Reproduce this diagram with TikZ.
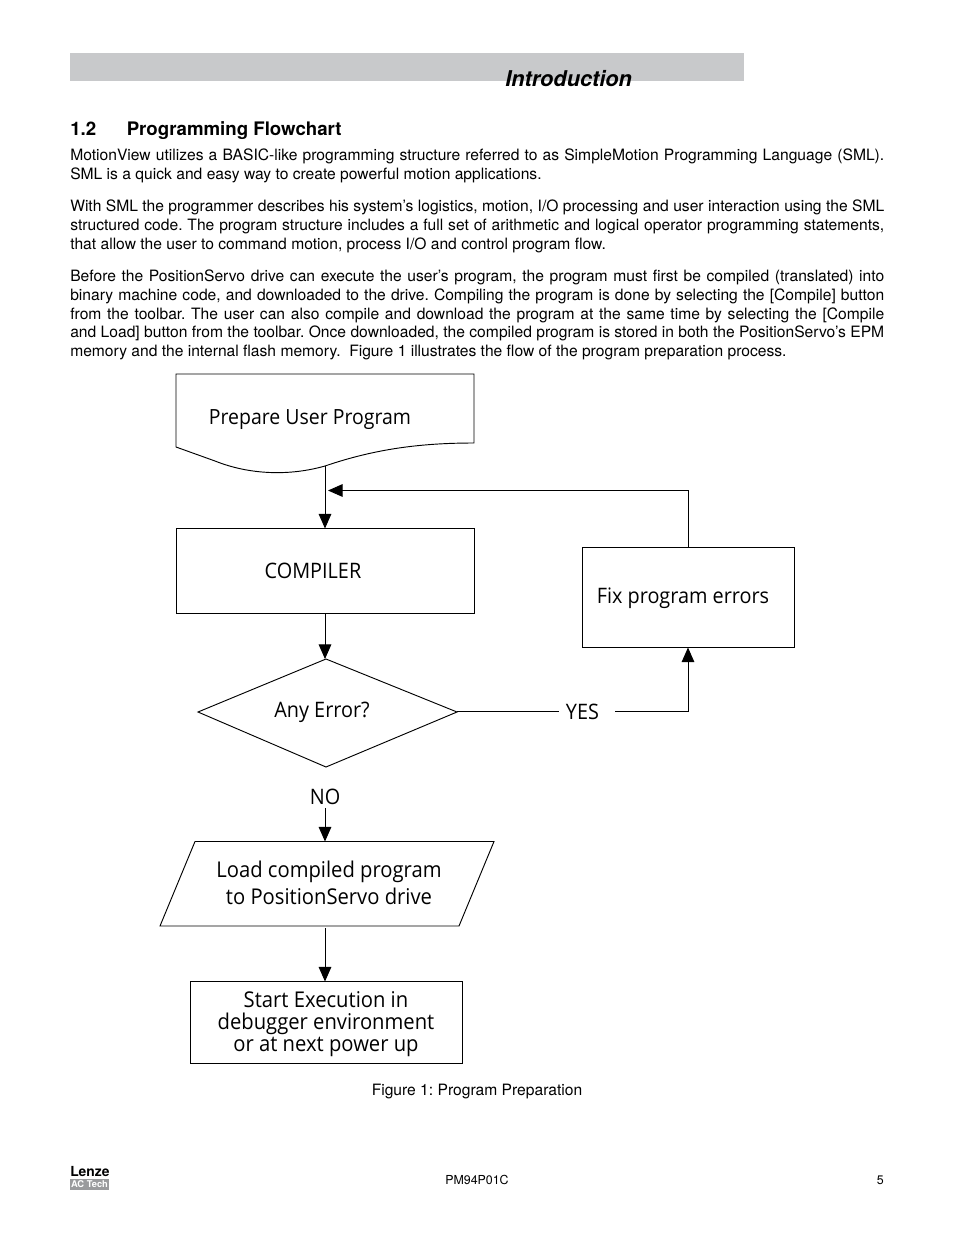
\documentclass[tikz,border=0pt]{standalone}
\usepackage{fontspec}
\setmainfont{TeX Gyre Heros}
\newfontfamily\chartfont[FakeStretch=0.93]{Open Sans}
\usetikzlibrary{arrows.meta}
\definecolor{headgray}{HTML}{C8C9CB}
\definecolor{logogray}{HTML}{9A9B9D}
\frenchspacing
\tikzset{
  x=0.75pt,y=-0.75pt,
  box/.style={draw=black,line width=0.7pt,inner sep=0pt,outer sep=0pt},
  shapeline/.style={draw=black,line width=0.7pt},
  flow/.style={draw=black,line width=0.75pt,-{Triangle[length=11pt,width=9.5pt]}},
  plainflow/.style={draw=black,line width=0.7pt},
  thickflow/.style={draw=black,line width=1.2pt},
  chart/.style={font=\chartfont\fontsize{16pt}{16.5pt}\selectfont,inner sep=0pt,align=center},
  chartbig/.style={font=\chartfont\fontsize{16.3pt}{16.5pt}\selectfont,inner sep=0pt,align=center},
  body/.style={anchor=north west,inner sep=0pt,text width=610.5pt,align=justify,font=\fontsize{11.72pt}{14pt}\selectfont},
  small/.style={inner sep=0pt,font=\fontsize{9.3pt}{12pt}\selectfont}
}
\begin{document}
\begin{tikzpicture}
\useasboundingbox (0,0) rectangle (954,1235);
\fill[white] (0,0) rectangle (954,1235);
% header
\fill[headgray] (70,53) rectangle (744,81);
\node[inner sep=0pt,anchor=base west,font=\fontsize{16.3pt}{18pt}\bfseries\itshape\selectfont] (title) at (505,86) {Introduction};
\node[inner sep=0pt,anchor=base west,font=\fontsize{14pt}{16pt}\bfseries\selectfont] (secnum) at (70,135) {1.2};
\node[inner sep=0pt,anchor=base west,font=\fontsize{14pt}{16pt}\bfseries\selectfont] (sechead) at (126.5,135) {Programming Flowchart};
% body
\node[body] (p1) at (70,149) {MotionView utilizes a BASIC-like programming structure referred to as SimpleMotion Programming Language (SML).\linebreak SML is a quick and easy way to create powerful motion applications.};
\node[body] (p2) at (70,200) {With SML the programmer describes his system’s logistics, motion, I/O processing and user interaction using the SML\linebreak structured code. The program structure includes a full set of arithmetic and logical operator programming statements,\linebreak that allow the user to command motion, process I/O and control program flow.};
\node[body] (p3) at (70,270) {Before the PositionServo drive can execute the user’s program, the program must first be compiled (translated) into\linebreak binary machine code, and downloaded to the drive. Compiling the program is done by selecting the [Compile] button\linebreak from the toolbar. The user can also compile and download the program at the same time by selecting the [Compile\linebreak and Load] button from the toolbar. Once downloaded, the compiled program is stored in both the PositionServo’s EPM\linebreak memory and the internal flash memory.\ \ Figure 1 illustrates the flow of the program preparation process.};
% document shape
\draw[shapeline] (176,447) -- (176,374) -- (474,374) -- (474,443)
  .. controls (420,443) and (375,449) .. (325,466)
  .. controls (290,476) and (250,475) .. (215,461)
  -- (176,447);
\coordinate (prepout) at (325,466);
\node[chart,anchor=center,font=\chartfont\fontsize{15.7pt}{16.5pt}\selectfont] (prep) at (310,419.5) {Prepare User Program};
% boxes
\node[box,minimum width=223.5pt,minimum height=63.75pt,anchor=north west] (comp) at (176.5,528.5) {};
\node[chart] (complabel) at (313,571) {COMPILER};
\node[box,minimum width=159pt,minimum height=75pt,anchor=north west] (fix) at (582.5,547.5) {};
\node[chart] (fixlabel) at (683,598) {Fix program errors};
% diamond
\coordinate (dT) at (326,659);
\coordinate (dB) at (326,767);
\coordinate (dL) at (198,712);
\coordinate (dR) at (457,712);
\draw[shapeline] (dT) -- (dR) -- (dB) -- (dL) -- cycle;
\node[chart] (anyerr) at (322,712) {Any Error?};
\node[chart] (yes) at (582.5,712) {YES};
\node[chart] (no) at (325,797) {NO};
% parallelogram
\coordinate (lT) at (325,841.5);
\coordinate (lB) at (325,928);
\draw[shapeline] (195,841.5) -- (494,841.5) -- (459,926) -- (160,926) -- cycle;
\node[chartbig,font=\chartfont\fontsize{16.3pt}{20.25pt}\selectfont] (load) at (329,882.5) {Load compiled program\\to PositionServo drive};
% start
\node[box,minimum width=204pt,minimum height=61.5pt,anchor=north west] (start) at (190,981.5) {};
\node[chartbig] (startlabel) at (326,1024) {Start Execution in\\debugger environment\\or at next power up};
% connectors
\coordinate (fbc) at (fix.north);
\coordinate (fbend) at (328,490.5);
\coordinate (yesend) at (559,711.5);
\coordinate (yesstart) at (615,711.5);
\coordinate (yescorner) at (688,711.5);
\coordinate (nostart) at (325,808);
\coordinate (compin) at (325,528.5);
\coordinate (compout) at (325,613.5);
\coordinate (dTin) at (325,659);
\draw[flow] (prepout) -- (compin);
\draw[flow] (fbc) |- (fbend);
\draw[flow] (compout) -- (dTin);
\draw[plainflow] (dR) ++(0,-0.5) -- (yesend);
\draw[thickflow] (yesstart) -- (yescorner);
\draw[flow] (yescorner) -- (yescorner |- fix.south);
\draw[flow] (nostart) -- (lT);
\draw[flow] (lB) -- (325,981.5);
% caption
\node[inner sep=0pt,font=\fontsize{11.72pt}{14pt}\selectfont] (cap) at (477,1091.5) {Figure 1: Program Preparation};
% footer
\node[small,anchor=base west] (code) at (445,1184) {PM94P01C};
\node[small,anchor=base east] (page) at (884,1184) {5};
\node[inner sep=0pt,anchor=base west,font=\fontsize{10.4pt}{12pt}\bfseries\selectfont] (lenze) at (70,1176.5) {Lenze};
\fill[logogray] (70,1179) rectangle (109,1190);
\node[inner sep=0pt,text=white,font=\fontsize{7pt}{8pt}\bfseries\selectfont] (actech) at (89.5,1184.5) {AC Tech};
\end{tikzpicture}
\end{document}
